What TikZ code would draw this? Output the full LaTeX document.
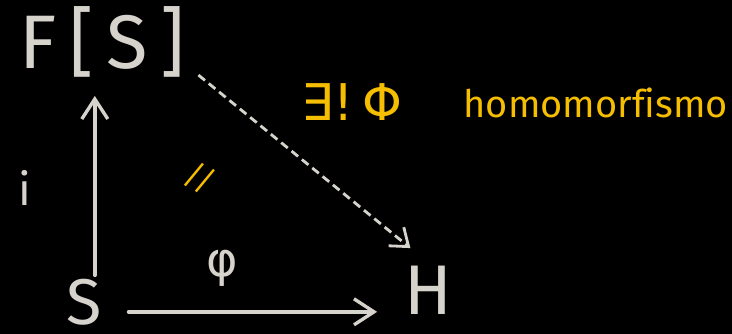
\documentclass[tikz,border=0pt]{standalone}
\usepackage{fontspec}
\setsansfont{Fira Sans}[Ligatures=NoCommon]
\newfontfamily\handsym{DejaVu Sans}[Scale=1]
\usetikzlibrary{arrows.meta,positioning,calc}
\definecolor{board}{RGB}{0,0,0}
\definecolor{chalk}{RGB}{214,211,204}
\definecolor{amber}{RGB}{246,190,0}
\tikzset{
  obj/.style={font=\sffamily\fontsize{54}{60}\selectfont,text=chalk,inner sep=1pt},
  tag/.style={font=\sffamily\fontsize{32}{38}\selectfont,text=chalk,inner sep=1pt},
  note/.style={font=\sffamily\fontsize{27}{32}\selectfont,text=amber,inner sep=1pt},
  mapto/.style={line width=2.6pt,chalk,line cap=round,
    -{Straight Barb[length=5mm,width=6.5mm,line width=2.4pt]}},
  unique/.style={line width=2pt,chalk,dash pattern=on 6pt off 3.5pt,
    -{Straight Barb[length=4mm,width=6mm,line width=2pt]}}
}
\begin{document}
\begin{tikzpicture}
  \fill[board] (0,0) rectangle (18.3,8.35);
  \useasboundingbox (0,0) rectangle (18.3,8.35);
  % objects
  \node[obj] (FS) at (2.55,7.3) {F\,[\,S\,]};
  \node[obj,font=\sffamily\fontsize{46}{52}\selectfont] (S) at (2.1,0.8) {S};
  \node[obj,font=\sffamily\fontsize{50}{56}\selectfont] (H) at (10.7,1.1) {H};
  % maps
  \draw[mapto] (S.north -| FS.south) ++(-0.18,0.05) -- ([xshift=-0.18cm,yshift=-12pt]FS.south);
  \draw[mapto] ([xshift=18pt,yshift=-7pt]S.east) -- ([xshift=-18pt,yshift=-7pt]S.east -| H.west);
  \draw[unique] ([shift={(0.3,0.1)}]FS.south east) -- ([shift={(0.2,0.4)}]H.north west);
  % labels
  \node[tag] (inc) at (0.62,3.65) {i};
  \node[tag,font=\handsym\fontsize{34}{40}\selectfont] (phi) at (5.55,1.65) {φ};
  \node[note,font=\sffamily\fontsize{22}{26}\selectfont,rotate=-25] (comm) at (5.0,3.9) {//};
  \node[note,font=\handsym\fontsize{36}{42}\selectfont] (claim) at (8.8,5.8) {∃!\,Φ};
  \node[note,anchor=base west] (hom) at (11.55,5.4) {homomorfismo};
\end{tikzpicture}
\end{document}
